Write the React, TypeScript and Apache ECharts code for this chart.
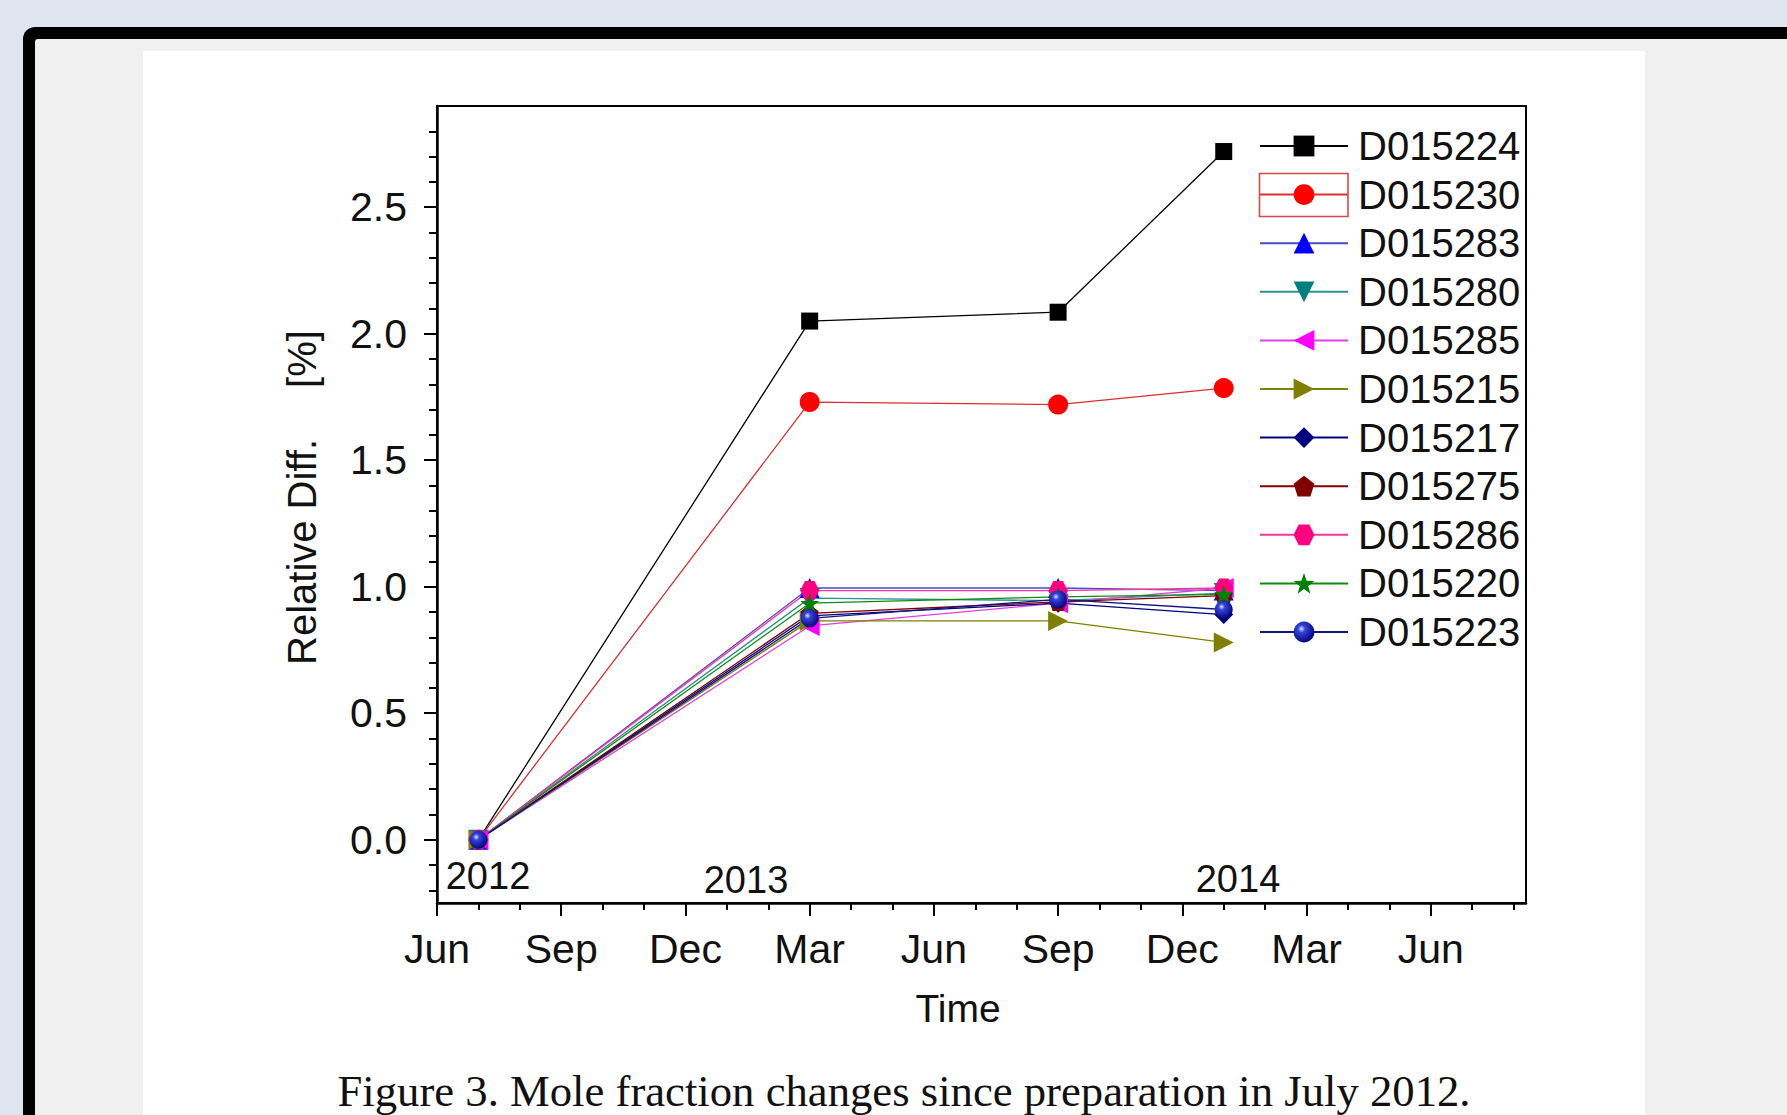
import React, { useEffect, useRef } from "react";
import * as echarts from "echarts";

// ---- data ----
const sampleDates = ["2012-07-01", "2013-03-01", "2013-09-01", "2014-01-01"];
const seriesNames = [
  "D015224", "D015230", "D015283", "D015280", "D015285", "D015215",
  "D015217", "D015275", "D015286", "D015220", "D015223",
];
const d015224 = [0, 2.05, 2.085, 2.72];
const d015230 = [0, 1.73, 1.72, 1.785];
const d015283 = [0, 0.995, 0.995, 0.985];
const d015280 = [0, 0.955, 0.945, 0.975];
const d015285 = [0, 0.845, 0.935, 0.995];
const d015215 = [0, 0.865, 0.865, 0.78];
const d015217 = [0, 0.885, 0.935, 0.89];
const d015275 = [0, 0.895, 0.94, 0.965];
const d015286 = [0, 0.985, 0.985, 0.995];
const d015220 = [0, 0.935, 0.96, 0.97];
const d015223 = [0, 0.875, 0.95, 0.91];
const seriesValues = [
  d015224, d015230, d015283, d015280, d015285, d015215,
  d015217, d015275, d015286, d015220, d015223,
];

const monthLabels = ["Jun", "Sep", "Dec", "Mar", "Jun", "Sep", "Dec", "Mar", "Jun"];
const xMajorTicks = [0, 3, 6, 9, 12, 15, 18, 21, 24];
const xMinorTicks = [0, 1, 2, 3, 4, 5, 6, 7, 8, 9, 10, 11, 12, 13, 14, 15, 16, 17, 18, 19, 20, 21, 22, 23, 24, 25, 26];
const yMajorTicks = [0, 0.5, 1, 1.5, 2, 2.5];
const yMinorTicks = [-0.2, -0.1, 0, 0.1, 0.2, 0.3, 0.4, 0.5, 0.6, 0.7, 0.8, 0.9, 1, 1.1, 1.2, 1.3, 1.4, 1.5, 1.6, 1.7, 1.8, 1.9, 2, 2.1, 2.2, 2.3, 2.4, 2.5, 2.6, 2.7, 2.8];
const yearLabels = ["2012", "2013", "2014"];

const FONT = "'Liberation Sans', Arial, sans-serif";

// months since 2012-06-01
function monthsSinceStart(s: string) {
  const [y, m, d] = s.split("-").map(Number);
  const dim = new Date(y, m, 0).getDate();
  return (y - 2012) * 12 + (m - 6) + (d - 1) / dim;
}

const sphere = {
  type: "radial", x: 0.38, y: 0.35, r: 0.7,
  colorStops: [
    { offset: 0, color: "#e0e6ff" },
    { offset: 0.25, color: "#3344dd" },
    { offset: 1, color: "#000070" },
  ],
};

const styles = [
  { line: "#000000", color: "#000000", symbol: "rect", size: 17, rot: 0 },
  { line: "#d83030", color: "#ff0000", symbol: "circle", size: 20, rot: 0 },
  { line: "#4848c8", color: "#0000ff", symbol: "triangle", size: 20, rot: 0 },
  { line: "#2a9292", color: "#008080", symbol: "triangle", size: 20, rot: 180 },
  { line: "#e040e0", color: "#ff00ff", symbol: "triangle", size: 20, rot: 90 },
  { line: "#808000", color: "#808000", symbol: "triangle", size: 20, rot: -90 },
  { line: "#000080", color: "#000080", symbol: "diamond", size: 19, rot: 0 },
  { line: "#800000", color: "#800000", symbol: "path://M0,-10 L9.51,-3.09 L5.88,8.09 L-5.88,8.09 L-9.51,-3.09 Z", size: 18, rot: 0 },
  { line: "#ff3399", color: "#ff0080", symbol: "path://M-10,0 L-5,-8.66 L5,-8.66 L10,0 L5,8.66 L-5,8.66 Z", size: 19, rot: 0 },
  { line: "#108a10", color: "#008000", symbol: "path://M0,-10 L2.35,-3.24 L9.51,-3.09 L3.8,1.24 L5.88,8.09 L0,4 L-5.88,8.09 L-3.8,1.24 L-9.51,-3.09 L-2.35,-3.24 Z", size: 19, rot: 0 },
  { line: "#141480", color: sphere, symbol: "circle", size: 18, rot: 0 },
];

export default function App() {
  const ref = useRef<HTMLDivElement>(null);
  useEffect(() => {
    if (!ref.current) return;
    const chart = echarts.init(ref.current, null, { renderer: "svg" });
    const xs = sampleDates.map(monthsSinceStart);
    const series = seriesNames.map((name, i) => ({
      name,
      type: "line",
      data: seriesValues[i].map((v, j) => [xs[j], v]),
      symbol: styles[i].symbol,
      symbolSize: styles[i].size,
      symbolRotate: styles[i].rot,
      lineStyle: { color: styles[i].line, width: 1.3 },
      itemStyle: { color: styles[i].color as any },
      xAxisIndex: 0,
      yAxisIndex: 0,
      z: 3,
    }));

    const axisCommon = { min: 0, max: 26.3, type: "value", position: "bottom", splitLine: { show: false } };
    const yCommon = { min: -0.25, max: 2.9, type: "value", position: "left", splitLine: { show: false } };

    chart.setOption({
      animation: false,
      backgroundColor: "transparent",
      grid: {
        left: 437, top: 106, right: 1787 - 1526, bottom: 1115 - 903,
        show: true, borderColor: "#000", borderWidth: 2, backgroundColor: "transparent",
      },
      xAxis: [
        {
          ...axisCommon,
          axisLine: { show: true, onZero: false, lineStyle: { color: "#000", width: 2.5 } },
          axisTick: { show: true, inside: false, length: 13, customValues: xMajorTicks, lineStyle: { color: "#000", width: 2 } },
          axisLabel: {
            show: true, customValues: xMajorTicks, margin: 25,
            fontSize: 41, color: "#111", fontFamily: FONT,
            formatter: (v: number) => monthLabels[xMajorTicks.indexOf(Math.round(v))] ?? "",
          },
        },
        {
          ...axisCommon,
          axisLine: { show: false, onZero: false },
          axisTick: { show: true, inside: false, length: 7, customValues: xMinorTicks, lineStyle: { color: "#000", width: 2 } },
          axisLabel: { show: false },
        },
      ],
      yAxis: [
        {
          ...yCommon,
          axisLine: { show: true, onZero: false, lineStyle: { color: "#000", width: 2.5 } },
          axisTick: { show: true, inside: false, length: 13, customValues: yMajorTicks, lineStyle: { color: "#000", width: 2 } },
          axisLabel: {
            show: true, customValues: yMajorTicks, margin: 30,
            fontSize: 41, color: "#111", fontFamily: FONT,
            formatter: (v: number) => v.toFixed(1),
          },
        },
        {
          ...yCommon,
          axisLine: { show: false, onZero: false },
          axisTick: { show: true, inside: false, length: 8, customValues: yMinorTicks, lineStyle: { color: "#000", width: 2 } },
          axisLabel: { show: false },
        },
      ],
      legend: {
        orient: "vertical",
        left: 1259,
        top: 126,
        padding: 0,
        itemWidth: 88,
        itemHeight: 26,
        itemGap: 8.6,
        data: seriesNames,
        textStyle: { fontSize: 40, color: "#111", fontFamily: FONT, padding: [0, 0, 0, 5] },
        selectedMode: false,
      },
      graphic: [
        {
          type: "rect", silent: true, z: 100,
          shape: { x: 1259.5, y: 173.5, width: 88.5, height: 43 },
          style: { fill: "none", stroke: "#d44a4a", lineWidth: 1.6 },
        },
        {
          type: "text", silent: true, x: 488, y: 876,
          style: { text: yearLabels[0], fontSize: 38, fill: "#111", fontFamily: FONT, align: "center", verticalAlign: "middle" },
        },
        {
          type: "text", silent: true, x: 746, y: 880,
          style: { text: yearLabels[1], fontSize: 38, fill: "#111", fontFamily: FONT, align: "center", verticalAlign: "middle" },
        },
        {
          type: "text", silent: true, x: 1238, y: 879,
          style: { text: yearLabels[2], fontSize: 38, fill: "#111", fontFamily: FONT, align: "center", verticalAlign: "middle" },
        },
        {
          type: "text", silent: true, x: 958, y: 1008,
          style: { text: "Time", fontSize: 39, fill: "#111", fontFamily: FONT, align: "center", verticalAlign: "middle" },
        },
        {
          type: "text", silent: true, x: 302, y: 552, rotation: Math.PI / 2,
          style: { text: "Relative Diff.", fontSize: 40, fill: "#111", fontFamily: FONT, align: "center", verticalAlign: "middle" },
        },
        {
          type: "text", silent: true, x: 302, y: 359, rotation: Math.PI / 2,
          style: { text: "[%]", fontSize: 40, fill: "#111", fontFamily: FONT, align: "center", verticalAlign: "middle" },
        },
        {
          type: "text", silent: true, x: 904, y: 1091,
          style: {
            text: "Figure 3. Mole fraction changes since preparation in July 2012.",
            fontSize: 44.7, fill: "#111", fontFamily: "'Liberation Serif', 'Times New Roman', serif",
            align: "center", verticalAlign: "middle",
          },
        },
      ],
      series,
    });
    return () => chart.dispose();
  }, []);

  return (
    <div style={{ position: "fixed", left: 0, top: 0, width: 1787, height: 1115, background: "#dee5ee", overflow: "hidden" }}>
      <div style={{ position: "absolute", left: 23, top: 27, width: 1900, height: 1200, background: "#000", borderRadius: 12 }} />
      <div style={{ position: "absolute", left: 35, top: 39, width: 1900, height: 1200, background: "#f0f0f0", borderTopLeftRadius: 3 }} />
      <div style={{ position: "absolute", left: 143, top: 51, width: 1502, height: 1200, background: "#ffffff" }} />
      <div ref={ref} style={{ position: "absolute", left: 0, top: 0, width: 1787, height: 1115 }} />
    </div>
  );
}
